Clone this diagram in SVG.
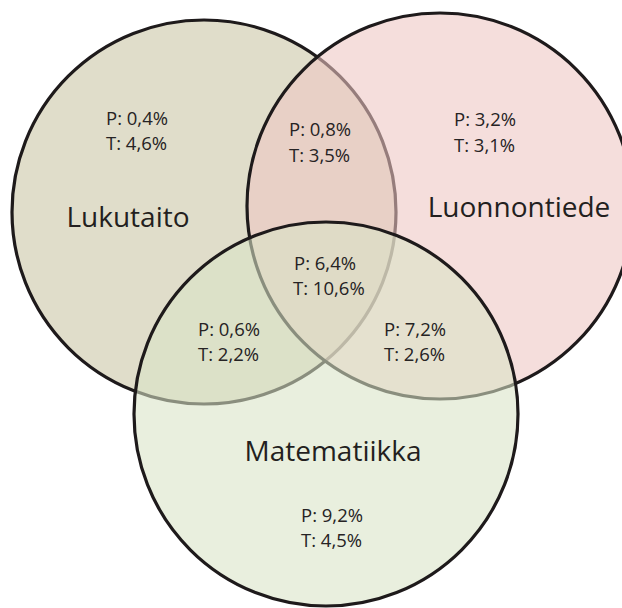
<svg xmlns="http://www.w3.org/2000/svg" width="622" height="608" viewBox="0 0 622 608">
<style>
.c{stroke:#1e1a1b;stroke-width:3.2}
.t{font-family:"Open Sans","Noto Sans","DejaVu Sans",sans-serif;font-size:18.5px;fill:#262324}
.lab{font-family:"Open Sans","Noto Sans","DejaVu Sans",sans-serif;font-size:28px;fill:#231f20;text-anchor:middle}
</style>
<rect width="622" height="608" fill="#ffffff"/>
<g id="lukutaito">
<circle class="c" cx="204" cy="212" r="192" fill="#e0ddca"/>
</g>
<g id="luonnontiede">
<circle class="c" cx="440" cy="206" r="193" fill="#eec6c3" fill-opacity="0.58"/>
</g>
<g id="matematiikka">
<circle class="c" cx="326" cy="414" r="192" fill="#d9e4c7" fill-opacity="0.58"/>
</g>
<g id="labels">
<text class="lab" x="128" y="227">Lukutaito</text>
<text class="lab" x="519" y="217">Luonnontiede</text>
<text class="lab" x="333" y="461">Matematiikka</text>
</g>
<g id="region-l">
<text class="t" x="106" y="125">P: 0,4%</text>
<text class="t" x="106" y="150">T: 4,6%</text>
</g>
<g id="region-lr">
<text class="t" x="289" y="136">P: 0,8%</text>
<text class="t" x="289" y="162">T: 3,5%</text>
</g>
<g id="region-r">
<text class="t" x="454" y="126">P: 3,2%</text>
<text class="t" x="454" y="152">T: 3,1%</text>
</g>
<g id="region-lrm">
<text class="t" x="294" y="270">P: 6,4%</text>
<text class="t" x="293" y="295">T: 10,6%</text>
</g>
<g id="region-lm">
<text class="t" x="198" y="336">P: 0,6%</text>
<text class="t" x="198" y="361">T: 2,2%</text>
</g>
<g id="region-rm">
<text class="t" x="384" y="336">P: 7,2%</text>
<text class="t" x="384" y="361">T: 2,6%</text>
</g>
<g id="region-m">
<text class="t" x="301" y="522">P: 9,2%</text>
<text class="t" x="301" y="547">T: 4,5%</text>
</g>
</svg>
